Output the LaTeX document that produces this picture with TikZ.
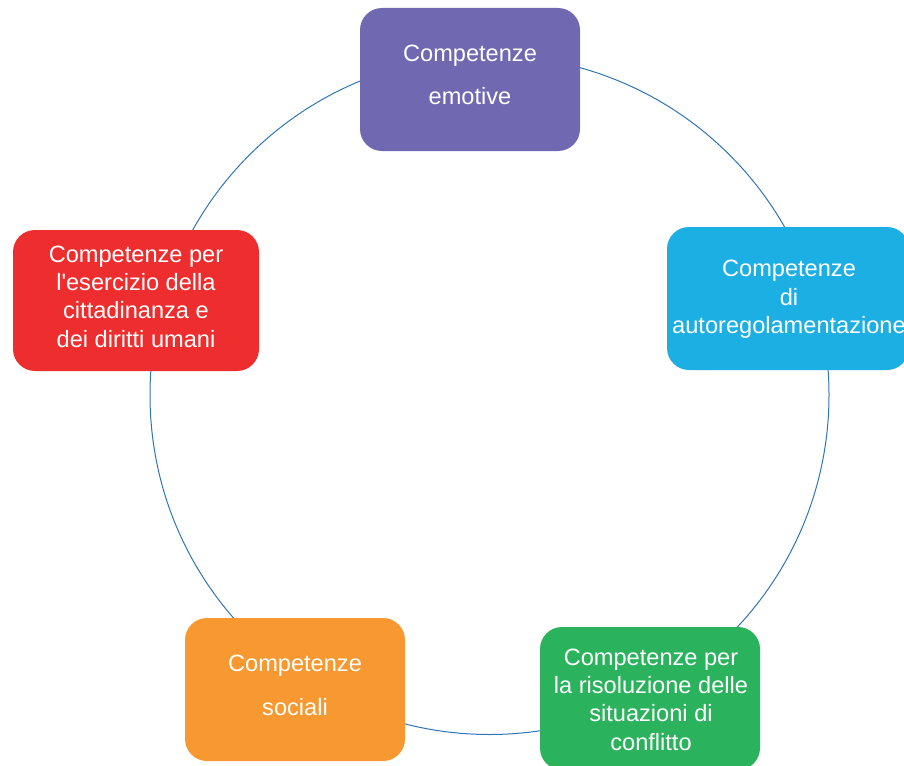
\documentclass[tikz,border=0pt]{standalone}
\usepackage{fontspec}
\setmainfont{Liberation Sans}
\definecolor{cpurple}{RGB}{112,104,176}
\definecolor{cblue}{RGB}{28,175,228}
\definecolor{cgreen}{RGB}{43,178,92}
\definecolor{corange}{RGB}{247,152,48}
\definecolor{cred}{RGB}{238,46,46}
\definecolor{cline}{RGB}{46,117,182}
\tikzset{
  boxbase/.style={rounded corners=22pt, inner sep=0pt, outer sep=0pt, anchor=north west},
  txt/.style={text=white, align=center, inner sep=0pt, font=\fontsize{23.6}{28.3}\selectfont},
  txtwide/.style={text=white, align=center, inner sep=0pt, font=\fontsize{23.6}{43.5}\selectfont},
  ring/.style={draw=cline, line width=1pt}
}
\begin{document}
\begin{tikzpicture}[x=1pt,y=-1pt]
\useasboundingbox (0,0) rectangle (904,765);
\coordinate (c) at (489.5,395);
\draw[ring] (c) circle[radius=339.5pt];
% boxes
\node[boxbase, fill=cpurple, minimum width=220pt, minimum height=143pt] (b1) at (360,8) {};
\node[boxbase, fill=cblue, minimum width=242pt, minimum height=143pt] (b2) at (667,227) {};
\node[boxbase, fill=cgreen, minimum width=220pt, minimum height=143pt] (b3) at (540,627) {};
\node[boxbase, fill=corange, minimum width=220pt, minimum height=143pt] (b4) at (185,618) {};
\node[boxbase, fill=cred, minimum width=246pt, minimum height=141pt] (b5) at (13,230) {};
% texts
\node[txtwide] (t1) at (470,75) {Competenze\\emotive};
\node[txt] (t2) at (789,299.5) {Competenze\\di\\autoregolamentazione};
\node[txt] (t3) at (651,699.5) {Competenze per\\la risoluzione delle\\situazioni di\\conflitto};
\node[txtwide] (t4) at (295,685.5) {Competenze\\sociali};
\node[txt] (t5) at (136,296.5) {Competenze per\\l\textquotesingle esercizio della\\cittadinanza e\\dei diritti umani};
\end{tikzpicture}
\end{document}
